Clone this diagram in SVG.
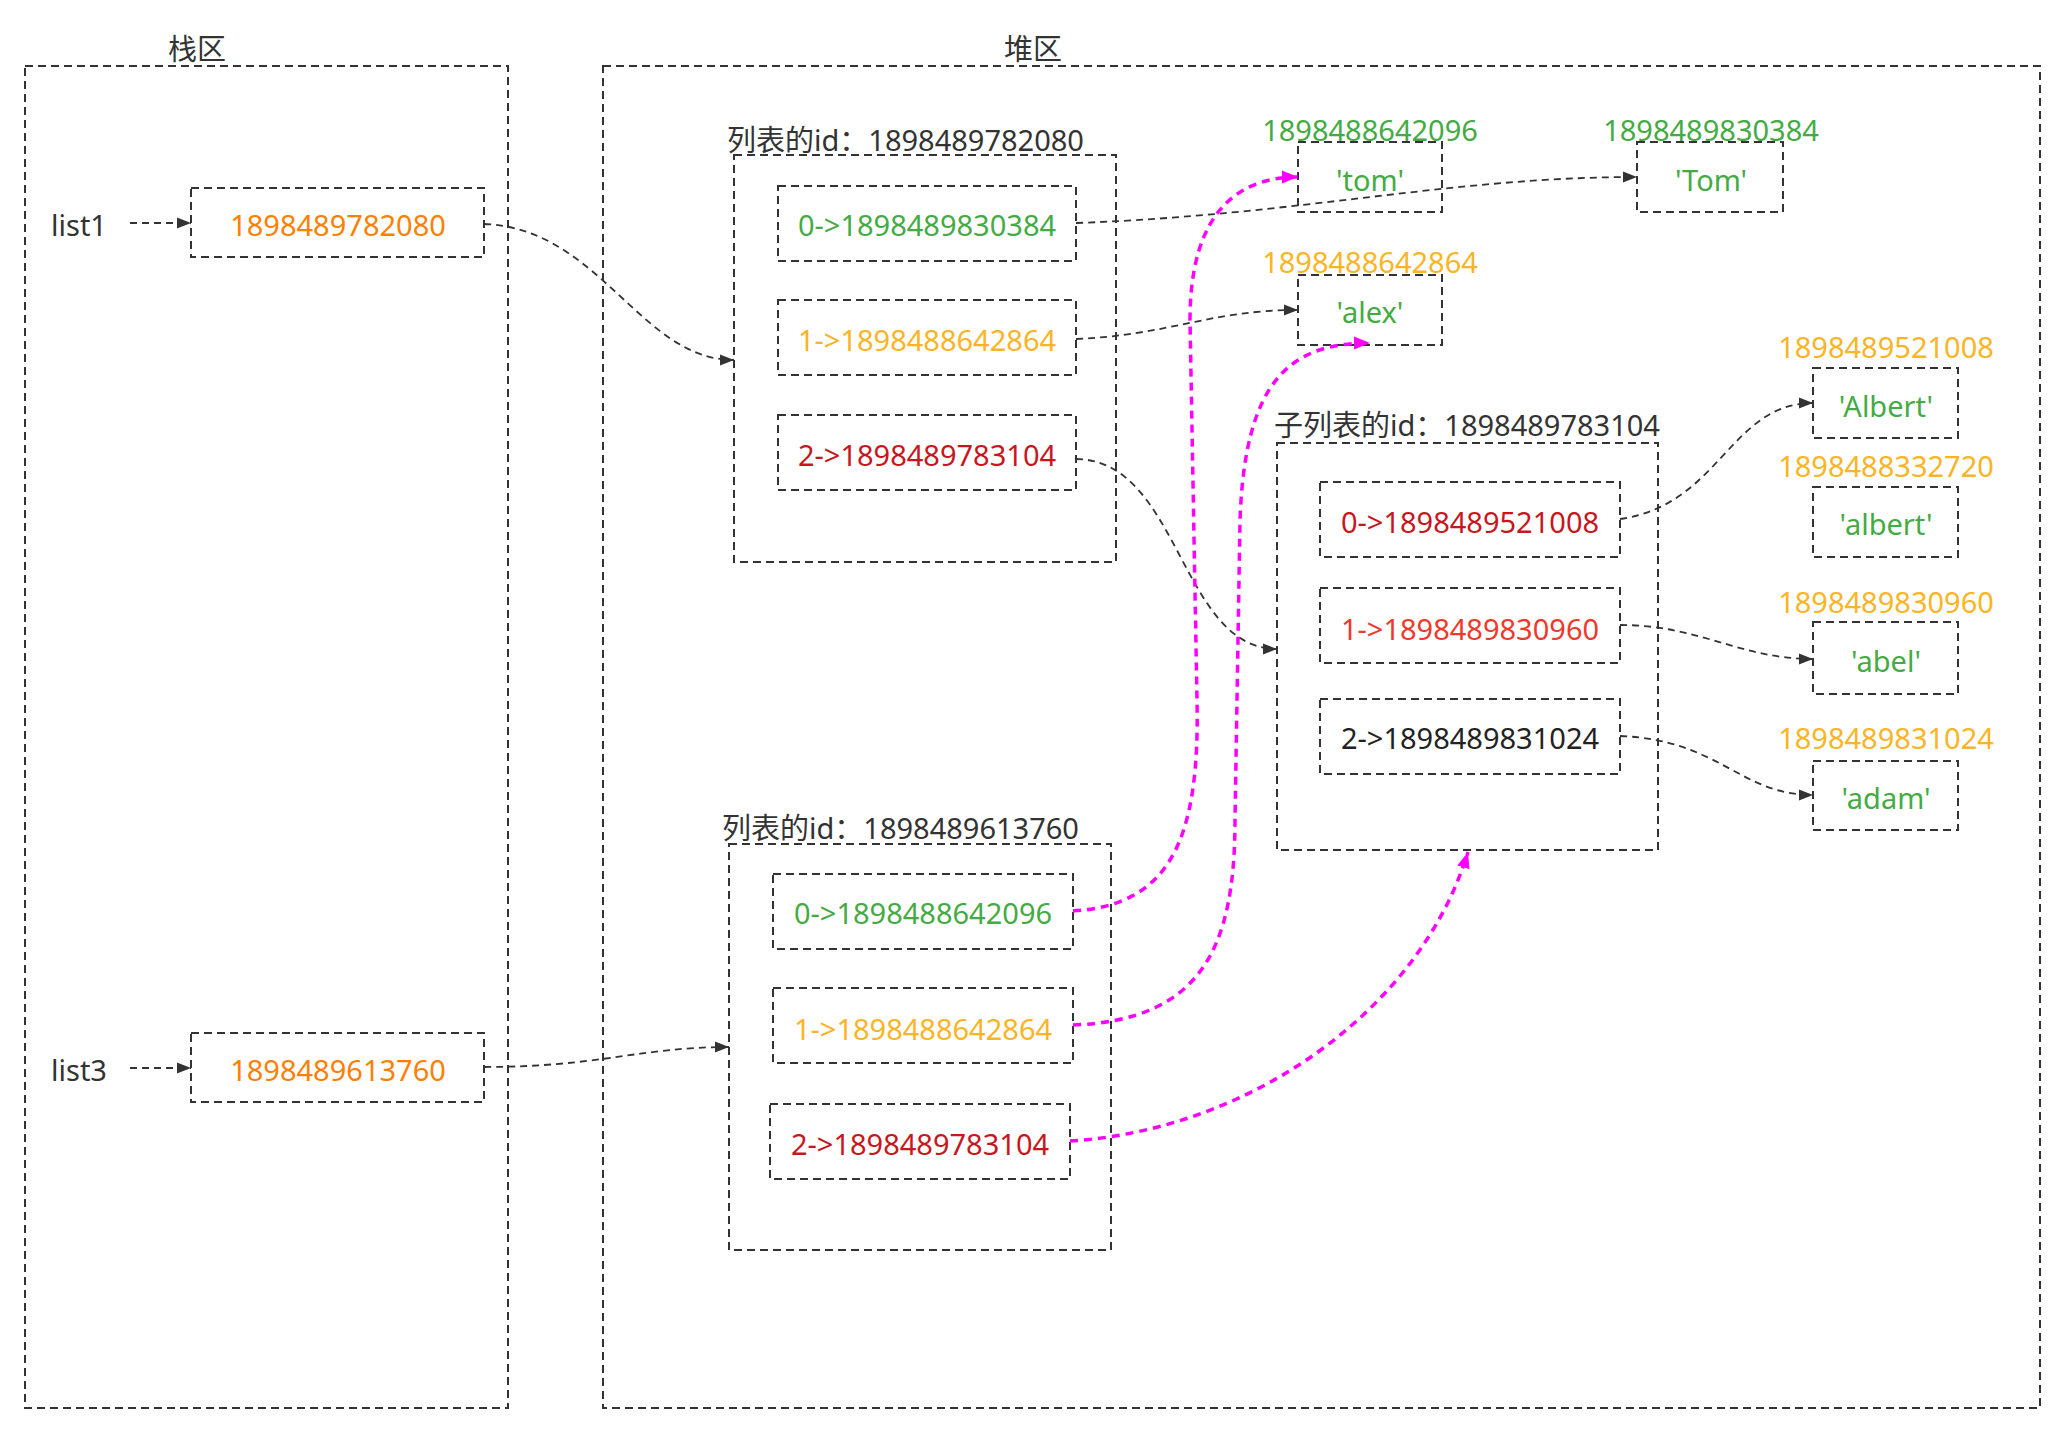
<svg xmlns="http://www.w3.org/2000/svg" width="2060" height="1432" viewBox="0 0 2060 1432">
<defs>
<style>
.b{fill:none;stroke:#333;stroke-width:2;stroke-dasharray:8 5}
.c{fill:none;stroke:#333;stroke-width:1.8;stroke-dasharray:7 5}
.m{fill:none;stroke:#ff00ff;stroke-width:3.5;stroke-dasharray:8 6}
text{font-family:"Noto Sans","Noto Sans CJK SC",sans-serif;font-size:29px}
.t{text-anchor:middle;dominant-baseline:central}
.g{fill:#44ab44}.o{fill:#ff8000}.y{fill:#fbb424}.r{fill:#c8161d}.rr{fill:#f0392b}.k{fill:#222}.d{fill:#333}
</style>
<marker id="a" viewBox="0 0 10 10" refX="10" refY="5" markerWidth="14" markerHeight="14" markerUnits="userSpaceOnUse" orient="auto"><path d="M0,1 L10,5 L0,9 Z" fill="#333"/></marker>
<marker id="am" viewBox="0 0 10 10" refX="10" refY="5" markerWidth="16" markerHeight="16" markerUnits="userSpaceOnUse" orient="auto"><path d="M0,1 L10,5 L0,9 Z" fill="#ff00ff"/></marker>
</defs>
<rect width="2060" height="1432" fill="#fff"/>
<g id="stack"><rect class="b" x="25" y="66" width="483" height="1342"/><text class="d" x="197" y="60" text-anchor="middle">栈区</text></g>
<g id="heap"><rect class="b" x="603" y="66" width="1437" height="1342"/><text class="d" x="1033" y="60" text-anchor="middle">堆区</text></g>
<g id="list1"><text class="d t" x="79" y="224">list1</text></g>
<g id="list3"><text class="d t" x="79" y="1069">list3</text></g>
<g id="v1"><rect class="b" x="191" y="188" width="293" height="69"/><text class="o t" x="338" y="224">1898489782080</text></g>
<g id="v3"><rect class="b" x="191" y="1033" width="293" height="69"/><text class="o t" x="338" y="1069">1898489613760</text></g>
<g id="L1"><rect class="b" x="734" y="155" width="382" height="407"/><text class="d" x="727" y="151">列表的id：1898489782080</text></g>
<g id="L1i0"><rect class="b" x="778" y="186" width="298" height="75"/><text class="g t" x="927" y="224">0-&gt;1898489830384</text></g>
<g id="L1i1"><rect class="b" x="778" y="300" width="298" height="75"/><text class="y t" x="927" y="339">1-&gt;1898488642864</text></g>
<g id="L1i2"><rect class="b" x="778" y="415" width="298" height="75"/><text class="r t" x="927" y="454">2-&gt;1898489783104</text></g>
<g id="L3"><rect class="b" x="729" y="844" width="382" height="406"/><text class="d" x="722" y="839">列表的id：1898489613760</text></g>
<g id="L3i0"><rect class="b" x="773" y="874" width="300" height="75"/><text class="g t" x="923" y="912">0-&gt;1898488642096</text></g>
<g id="L3i1"><rect class="b" x="773" y="988" width="300" height="75"/><text class="y t" x="923" y="1028">1-&gt;1898488642864</text></g>
<g id="L3i2"><rect class="b" x="770" y="1104" width="300" height="75"/><text class="r t" x="920" y="1143">2-&gt;1898489783104</text></g>
<g id="S"><rect class="b" x="1277" y="443" width="381" height="407"/><text class="d" x="1274" y="436">子列表的id：1898489783104</text></g>
<g id="Si0"><rect class="b" x="1320" y="482" width="300" height="75"/><text class="r t" x="1470" y="521">0-&gt;1898489521008</text></g>
<g id="Si1"><rect class="b" x="1320" y="588" width="300" height="75"/><text class="rr t" x="1470" y="628">1-&gt;1898489830960</text></g>
<g id="Si2"><rect class="b" x="1320" y="699" width="300" height="75"/><text class="k t" x="1470" y="737">2-&gt;1898489831024</text></g>
<g id="tom"><text class="g t" x="1370" y="129">1898488642096</text><rect class="b" x="1298" y="142" width="144" height="70"/><text class="g t" x="1370" y="179">'tom'</text></g>
<g id="Tom"><text class="g t" x="1711" y="129">1898489830384</text><rect class="b" x="1637" y="142" width="146" height="70"/><text class="g t" x="1711" y="179">'Tom'</text></g>
<g id="alex"><text class="y t" x="1370" y="261">1898488642864</text><rect class="b" x="1298" y="275" width="144" height="70"/><text class="g t" x="1370" y="311">'alex'</text></g>
<g id="Albert"><text class="y t" x="1886" y="346">1898489521008</text><rect class="b" x="1813" y="368" width="145" height="70"/><text class="g t" x="1886" y="405">'Albert'</text></g>
<g id="albert"><text class="y t" x="1886" y="465">1898488332720</text><rect class="b" x="1813" y="487" width="145" height="70"/><text class="g t" x="1886" y="523">'albert'</text></g>
<g id="abel"><text class="y t" x="1886" y="601">1898489830960</text><rect class="b" x="1813" y="622" width="145" height="72"/><text class="g t" x="1886" y="660">'abel'</text></g>
<g id="adam"><text class="y t" x="1886" y="737">1898489831024</text><rect class="b" x="1813" y="761" width="145" height="69"/><text class="g t" x="1886" y="797">'adam'</text></g>
<g id="connectors">
<path class="c" d="M130,223 L191,223" marker-end="url(#a)"/>
<path class="c" d="M130,1068 L191,1068" marker-end="url(#a)"/>
<path class="c" d="M484,224 C600,228 640,360 734,360" marker-end="url(#a)"/>
<path class="c" d="M484,1067 C600,1067 640,1047 729,1047" marker-end="url(#a)"/>
<path class="c" d="M1076,223 C1300,215 1450,177 1637,177" marker-end="url(#a)"/>
<path class="c" d="M1076,339 C1170,335 1210,310 1298,310" marker-end="url(#a)"/>
<path class="c" d="M1076,459 C1180,460 1180,649 1277,649" marker-end="url(#a)"/>
<path class="c" d="M1620,519 C1720,505 1730,403 1813,403" marker-end="url(#a)"/>
<path class="c" d="M1620,625 C1700,625 1740,659 1813,659" marker-end="url(#a)"/>
<path class="c" d="M1620,736 C1720,740 1740,795 1813,795" marker-end="url(#a)"/>
<path class="m" d="M1073,911 C1170,905 1200,840 1197,700 L1190,320 C1190,210 1240,177 1298,177" marker-end="url(#am)"/>
<path class="m" d="M1073,1025 C1200,1020 1235,950 1235,820 L1240,520 C1245,380 1290,343 1370,343" marker-end="url(#am)"/>
<path class="m" d="M1070,1141 C1250,1130 1420,1010 1468,852" marker-end="url(#am)"/>
</g>
</svg>
